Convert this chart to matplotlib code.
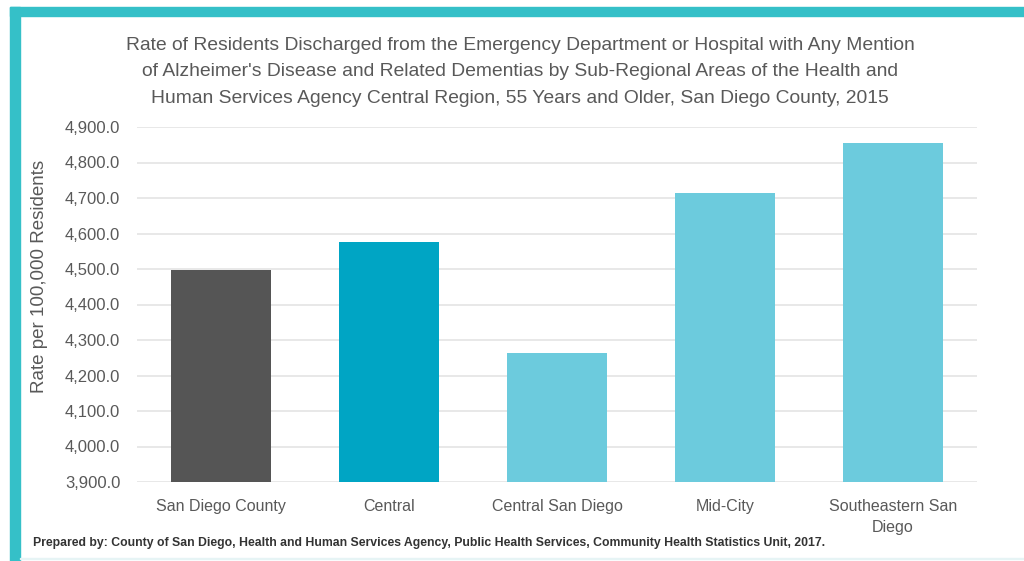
import matplotlib.pyplot as plt
from matplotlib.patches import Rectangle
from matplotlib.ticker import FuncFormatter

# values
areas = ['San Diego County', 'Central', 'Central San Diego', 'Mid-City', 'Southeastern San\nDiego']
rates = [4497.0, 4576.0, 4262.0, 4713.0, 4855.0]
bar_colors = ['#555555', '#00a5c4', '#6ccbdd', '#6ccbdd', '#6ccbdd']
y_ticks = [3900, 4000, 4100, 4200, 4300, 4400, 4500, 4600, 4700, 4800, 4900]

title = ("Rate of Residents Discharged from the Emergency Department or Hospital with Any Mention\n"
         "of Alzheimer's Disease and Related Dementias by Sub-Regional Areas of the Health and\n"
         "Human Services Agency Central Region, 55 Years and Older, San Diego County, 2015")
source = ("Prepared by: County of San Diego, Health and Human Services Agency, "
          "Public Health Services, Community Health Statistics Unit, 2017.")

plt.rcParams['font.family'] = ['Liberation Sans', 'DejaVu Sans']
grey = '#595959'

fig = plt.figure(figsize=(10.24, 5.61), dpi=100)

# teal frame on top and left
fig.patches.append(Rectangle((10 / 1024, 0), 10 / 1024, 1 - 7 / 561,
                             transform=fig.transFigure, color='#35c0c8', zorder=0))
fig.patches.append(Rectangle((10 / 1024, 1 - 16 / 561), 1 - 10 / 1024, 9 / 561,
                             transform=fig.transFigure, color='#35c0c8', zorder=0))
fig.patches.append(Rectangle((20 / 1024, 2 / 561), 1, 1 / 561,
                             transform=fig.transFigure, color='#e6f4f5', zorder=0))

ax = fig.add_axes([137 / 1024, 79 / 561, 840 / 1024, 355 / 561])
x = range(len(areas))
ax.bar(x, [r - 3900 for r in rates], bottom=3900, width=0.59, color=bar_colors, zorder=3)
ax.set_xlim(-0.5, len(areas) - 0.5)
ax.set_ylim(3900, 4900)
ax.set_yticks(y_ticks)
ax.yaxis.set_major_formatter(FuncFormatter(lambda v, p: f'{v:,.1f}'))
ax.set_xticks(list(x))
ax.set_xticklabels(areas, fontsize=11.5, color=grey, linespacing=1.55)
ax.tick_params(axis='both', length=0, colors=grey)
ax.tick_params(axis='y', labelsize=12, pad=12)
ax.tick_params(axis='x', pad=12)
ax.grid(axis='y', color='#e4e4e4', linewidth=1.2, zorder=0)
for s in ax.spines.values():
    s.set_visible(False)

ax.set_ylabel('Rate per 100,000 Residents', fontsize=13.5, color=grey)
ax.yaxis.set_label_coords(-0.106, 0.58)

fig.text(0.508, 1 - 37 / 561, title, ha='center', va='top', fontsize=13.9,
         color=grey, linespacing=1.72)
fig.text(33 / 1024, 1 - 543 / 561, source, ha='left', va='center', fontsize=8.85,
         color='#333333', fontweight='bold')

fig.savefig('out.png', dpi=100)
